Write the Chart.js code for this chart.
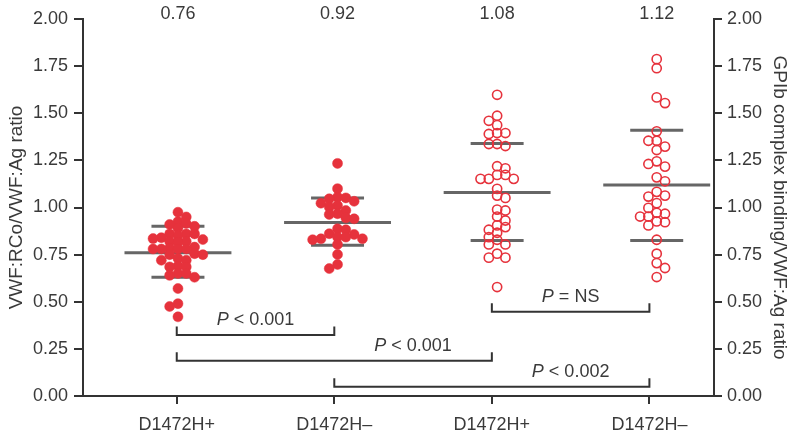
<!DOCTYPE html>
<html><head><meta charset="utf-8">
<script src="https://cdn.jsdelivr.net/npm/chart.js@4/dist/chart.umd.min.js"></script>
<style>html,body{margin:0;padding:0;background:#fff}#wrap{width:800px;height:437px;position:relative}</style>
</head><body><div id="wrap"><canvas id="c"></canvas></div>
<script>
// ---- data ----
const categories = ['D1472H+', 'D1472H\u2013', 'D1472H+', 'D1472H\u2013'];
const means  = [0.76, 0.92, 1.08, 1.12];
const sdHigh = [0.90, 1.05, 1.34, 1.41];
const sdLow  = [0.63, 0.80, 0.825, 0.825];
const group1 = [0.975,0.95,0.91,0.925,0.915,0.90,0.89,0.86,0.86,0.86,0.84,0.85,0.83,0.835,0.82,0.82,0.815,0.78,0.785,0.79,0.78,0.78,0.78,0.755,0.75,0.75,0.72,0.72,0.73,0.685,0.685,0.69,0.65,0.64,0.65,0.63,0.57,0.49,0.475,0.42];
const group2 = [1.234,1.10,1.033,1.023,1.055,1.051,1.046,1.002,1.011,0.984,0.963,0.945,0.967,0.94,0.861,0.843,0.843,0.882,0.887,0.857,0.834,0.834,0.829,0.804,0.751,0.676,0.698];
const group3 = [1.598,1.487,1.46,1.437,1.395,1.39,1.395,1.337,1.326,1.337,1.208,1.219,1.173,1.152,1.152,1.152,1.173,1.099,1.063,1.051,0.984,0.989,0.952,0.931,0.905,0.896,0.882,0.866,0.829,0.843,0.804,0.804,0.755,0.734,0.734,0.578];
const group4 = [1.787,1.739,1.584,1.554,1.404,1.354,1.354,1.323,1.305,1.231,1.217,1.245,1.16,1.139,1.063,1.058,1.083,1.023,0.998,0.972,0.952,0.952,0.967,0.926,0.922,0.905,0.829,0.755,0.705,0.679,0.631];
const comparisons = [
  {from: 0, to: 1, level: 0.324, p: '< 0.001'},
  {from: 0, to: 2, level: 0.187, p: '< 0.001'},
  {from: 1, to: 3, level: 0.049, p: '< 0.002'},
  {from: 2, to: 3, level: 0.447, p: '= NS'}
];
const yTicks = [0, 0.25, 0.5, 0.75, 1, 1.25, 1.5, 1.75, 2];

// ---- styling ----
const RED = '#e6323c';
const AXIS = '#333';
const TEXT = '#3a3a3a';
const FONT = "'Liberation Sans', Arial, sans-serif";
const COL_STEP = 0.052;   // horizontal spacing of swarm columns (category units)
const MIN_GAP = 0.034;    // vertical spacing needed in same column (value units)

function swarm(values, center) {
  const order = [0,1,-1,2,-2,3,-3,4,-4,5,-5];
  const cols = {};
  const out = [];
  values.map((v,i)=>i).sort((a,b)=>values[b]-values[a]).forEach((i, k) => {
    const v = values[i];
    const ord = (k % 2) ? order : order.map(c => -c);
    for (const c of ord) {
      const ys = cols[c] || (cols[c] = []);
      if (ys.every(y => Math.abs(y - v) >= MIN_GAP)) { ys.push(v); out.push({x: center + c*COL_STEP, y: v}); return; }
    }
    out.push({x: center, y: v});
  });
  return out;
}

const groups = [group1, group2, group3, group4];
const datasets = [];
groups.forEach((g, i) => {
  const filled = i < 2;
  datasets.push({
    type: 'scatter', xAxisID: 'xd', yAxisID: 'y',
    data: swarm(g, i),
    pointRadius: filled ? 5 : 4.6,
    pointBackgroundColor: filled ? RED : 'rgba(255,255,255,0)',
    pointBorderColor: RED,
    pointBorderWidth: filled ? 0.5 : 1.6,
    order: 0
  });
});
const MEAN_HALF = 0.335, SD_HALF = 0.166;
const lineSet = (pts, w, c) => ({type:'line', xAxisID:'xd', yAxisID:'y', data: pts, borderColor: c, borderWidth: w, pointRadius: 0, fill: false, order: 5});
means.forEach((m, i) => {
  datasets.push(lineSet([{x:i-MEAN_HALF,y:m},{x:i+MEAN_HALF,y:m}], 3, '#666'));
  datasets.push(lineSet([{x:i-SD_HALF,y:sdHigh[i]},{x:i+SD_HALF,y:sdHigh[i]}], 3, '#666'));
  datasets.push(lineSet([{x:i-SD_HALF,y:sdLow[i]},{x:i+SD_HALF,y:sdLow[i]}], 3, '#666'));
});
const BR_TICK = 0.045;
comparisons.forEach(c => {
  datasets.push({type:'line', xAxisID:'x', yAxisID:'y', data:[
    {x:c.from,y:c.level+BR_TICK},{x:c.from,y:c.level},{x:c.to,y:c.level},{x:c.to,y:c.level+BR_TICK}],
    borderColor: AXIS, borderWidth: 2, pointRadius: 0, fill: false, order: 6, borderJoinStyle:'miter'});
});

const textPlugin = {
  id: 'texts',
  afterDraw(chart) {
    const ctx = chart.ctx, xs = chart.scales.x, xd = chart.scales.xd, ys = chart.scales.y;
    ctx.save();
    ctx.fillStyle = TEXT;
    ctx.textBaseline = 'middle';
    ctx.textAlign = 'center';
    ctx.font = '18px ' + FONT;
    means.forEach((m, i) => ctx.fillText(m.toFixed(2), xd.getPixelForValue(i), chart.chartArea.top - 4.5));
    comparisons.forEach(c => {
      const cx = xs.getPixelForValue(c.to - 0.5);
      const cy = ys.getPixelForValue(c.level) - 15;
      ctx.font = 'italic 18px ' + FONT;
      const wP = ctx.measureText('P').width;
      ctx.font = '18px ' + FONT;
      const rest = ' ' + c.p;
      const wR = ctx.measureText(rest).width;
      const x0 = cx - (wP + wR) / 2;
      ctx.textAlign = 'left';
      ctx.font = 'italic 18px ' + FONT;
      ctx.fillText('P', x0, cy);
      ctx.font = '18px ' + FONT;
      ctx.fillText(rest, x0 + wP, cy);
      ctx.textAlign = 'center';
    });
    ctx.restore();
  }
};

const tickFont = {family: FONT, size: 18};
new Chart(document.getElementById('c'), {
  data: {datasets},
  options: {
    responsive: true, maintainAspectRatio: false, animation: false,
    layout: {padding: {top: 19, left: 0, right: 0, bottom: 0}},
    plugins: {legend: {display: false}, tooltip: {enabled: false}},
    scales: {
      x: {
        type: 'linear', position: 'bottom', min: -0.595, max: 3.41,
        afterBuildTicks: s => { s.ticks = categories.map((c, i) => ({value: i})); },
        afterFit: s => { s.height = 41; },
        ticks: {font: tickFont, color: TEXT, padding: 10, maxRotation: 0, autoSkip: false,
          callback: v => categories[Math.round(v)]},
        grid: {drawOnChartArea: false, drawTicks: true, tickLength: 8, color: AXIS, lineWidth: 2},
        border: {display: true, color: AXIS, width: 2}
      },
      xd: {type: 'linear', display: false, min: -0.595, max: 3.359},
      y: {
        type: 'linear', position: 'left', min: 0, max: 2,
        afterBuildTicks: s => { s.ticks = yTicks.map(v => ({value: v})); },
        afterFit: s => { s.width = 83; },
        ticks: {font: tickFont, color: TEXT, padding: 6, callback: v => v.toFixed(2)},
        grid: {drawOnChartArea: false, drawTicks: true, tickLength: 9, color: AXIS, lineWidth: 2},
        border: {display: true, color: AXIS, width: 2},
        title: {display: true, text: 'VWF:RCo/VWF:Ag ratio', font: {family: FONT, size: 19}, color: TEXT, padding: {top: 5, bottom: 0}}
      },
      y2: {
        type: 'linear', position: 'right', min: 0, max: 2,
        afterBuildTicks: s => { s.ticks = yTicks.map(v => ({value: v})); },
        afterFit: s => { s.width = 86; },
        ticks: {font: tickFont, color: TEXT, padding: 5, callback: v => v.toFixed(2)},
        grid: {drawOnChartArea: false, drawTicks: true, tickLength: 8, color: AXIS, lineWidth: 2},
        border: {display: true, color: AXIS, width: 2},
        title: {display: true, text: 'GPIb complex binding/VWF:Ag ratio', font: {family: FONT, size: 19}, color: TEXT, padding: {top: 9, bottom: 0}}
      }
    }
  },
  plugins: [textPlugin]
});
</script></body></html>
